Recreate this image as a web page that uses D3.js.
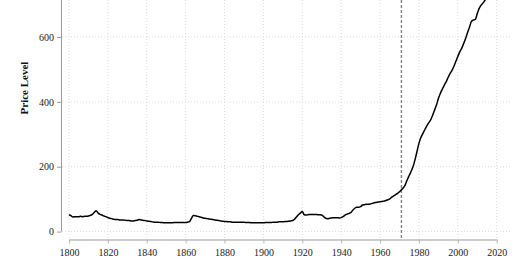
<!DOCTYPE html>
<html>
<head>
<meta charset="utf-8">
<script src="https://cdn.jsdelivr.net/npm/d3@7"></script>
<style>
  body { margin: 0; background: #fff; }
</style>
</head>
<body>
<div id="chart"></div>
<script>
// data (annual price level, 1800-2020)
const startYear = 1800;
const priceLevel = [
  52, 49, 45, 46, 46, 46, 47, 46, 47, 47,      // 1800s
  48, 50, 53, 59, 64, 57, 53, 51, 48, 46,      // 1810s
  43, 41, 40, 38, 37, 37, 36, 36, 36, 35,      // 1820s
  34, 34, 33, 33, 34, 35, 37, 36, 35, 34,      // 1830s
  33, 32, 31, 30, 29, 29, 29, 28, 28, 27,      // 1840s
  27, 27, 27, 27, 28, 28, 28, 28, 28, 28,      // 1850s
  28, 29, 31, 41, 50, 49, 47, 46, 44, 42,      // 1860s
  41, 40, 39, 38, 37, 36, 35, 34, 33, 32,      // 1870s
  31, 31, 30, 30, 29, 29, 29, 29, 29, 29,      // 1880s
  29, 28, 28, 28, 27, 27, 27, 27, 27, 27,      // 1890s
  27, 28, 28, 28, 28, 29, 29, 29, 30, 30,      // 1900s
  30, 31, 31, 32, 33, 34, 38, 45, 52, 57,      // 1910s
  62, 52, 51, 52, 53, 53, 53, 53, 52, 52,      // 1920s
  51, 46, 41, 40, 41, 42, 43, 43, 43, 42,      // 1930s
  43, 46, 51, 54, 56, 59, 66, 72, 75, 75,      // 1940s
  77, 82, 83, 84, 84, 85, 87, 89, 90, 91,      // 1950s
  92, 93, 94, 96, 98, 101, 106, 110, 114, 118, // 1960s
  123, 129, 135, 145, 160, 173, 186, 201, 222, 247, // 1970s
  272, 290, 302, 314, 325, 335, 344, 358, 374, 390, // 1980s
  410, 426, 439, 451, 462, 475, 487, 497, 510, 525, // 1990s
  540, 554, 565, 580, 595, 614, 630, 648, 652, 654, // 2000s
  672, 688, 698, 705, 714, 722, 734, 748, 762, 775, // 2010s
  785                                             // 2020
];
const series = priceLevel.map((v, i) => ({ year: startYear + i, value: v }));

const xTicks = [1800, 1820, 1840, 1860, 1880, 1900, 1920, 1940, 1960, 1980, 2000, 2020];
const yTicks = [0, 200, 400, 600];
const markerYear = 1971;

const width = 520, height = 272;
const font = "'Liberation Serif', 'Times New Roman', serif";

const svg = d3.select('#chart').append('svg')
  .attr('width', width)
  .attr('height', height)
  .attr('font-family', font);

// the panel is cut at the top, so the y range runs right up to 0
const x = d3.scaleLinear().domain([1800, 2020]).range([69, 496.7]);
const y = d3.scaleLinear().domain([0, 714]).range([231.6, 0]);

const panelLeft = 62, panelRight = 511, panelBottom = 238.5;

// dotted grid
svg.append('g').selectAll('line.hgrid')
  .data(yTicks)
  .join('line')
  .attr('class', 'hgrid')
  .attr('x1', panelLeft).attr('x2', panelRight)
  .attr('y1', d => y(d)).attr('y2', d => y(d))
  .attr('stroke', '#d9d9d9')
  .attr('stroke-width', 1)
  .attr('stroke-dasharray', '1,2');

svg.append('g').selectAll('line.vgrid')
  .data(xTicks)
  .join('line')
  .attr('class', 'vgrid')
  .attr('x1', d => x(d)).attr('x2', d => x(d))
  .attr('y1', 0).attr('y2', panelBottom)
  .attr('stroke', '#d9d9d9')
  .attr('stroke-width', 1)
  .attr('stroke-dasharray', '1,2');

// y axis
const yAxis = svg.append('g')
  .attr('transform', 'translate(61,0)')
  .call(d3.axisLeft(y).tickValues(yTicks).tickSize(4).tickPadding(3).tickSizeOuter(0));
yAxis.select('.domain').attr('stroke', '#9a9a9a').attr('d', `M0.5,0V${y(0)}`);
yAxis.selectAll('.tick line').attr('stroke', '#9a9a9a');
yAxis.selectAll('.tick text')
  .attr('font-family', font)
  .attr('font-size', 10)
  .attr('fill', '#222');

// x axis (range frame between first and last tick)
const xAxis = svg.append('g')
  .attr('transform', 'translate(0,239.5)')
  .call(d3.axisBottom(x).tickValues(xTicks).tickFormat(d3.format('d')).tickSize(4).tickPadding(5).tickSizeOuter(0));
xAxis.select('.domain').attr('stroke', '#cccccc').attr('stroke-width', 2);
xAxis.selectAll('.tick line').attr('stroke', '#b5b5b5');
xAxis.selectAll('.tick text')
  .attr('font-family', font)
  .attr('font-size', 10)
  .attr('fill', '#222');

// y label
svg.append('text')
  .attr('transform', 'translate(28,88) rotate(-90)')
  .attr('text-anchor', 'middle')
  .attr('font-size', 11)
  .attr('font-weight', 'bold')
  .attr('fill', '#111')
  .text('Price Level');

// 1971 marker
svg.append('line')
  .attr('x1', x(markerYear)).attr('x2', x(markerYear))
  .attr('y1', 0).attr('y2', panelBottom)
  .attr('stroke', '#808080')
  .attr('stroke-width', 1.4)
  .attr('stroke-dasharray', '3,2');

// price line, clipped at the top edge
svg.append('clipPath').attr('id', 'clip')
  .append('rect').attr('x', 0).attr('y', 0).attr('width', width).attr('height', panelBottom);

const line = d3.line()
  .x(d => x(d.year))
  .y(d => y(d.value))
  .curve(d3.curveMonotoneX);

svg.append('path')
  .datum(series)
  .attr('clip-path', 'url(#clip)')
  .attr('fill', 'none')
  .attr('stroke', '#000')
  .attr('stroke-width', 1.5)
  .attr('stroke-linejoin', 'round')
  .attr('d', line);
</script>
</body>
</html>
